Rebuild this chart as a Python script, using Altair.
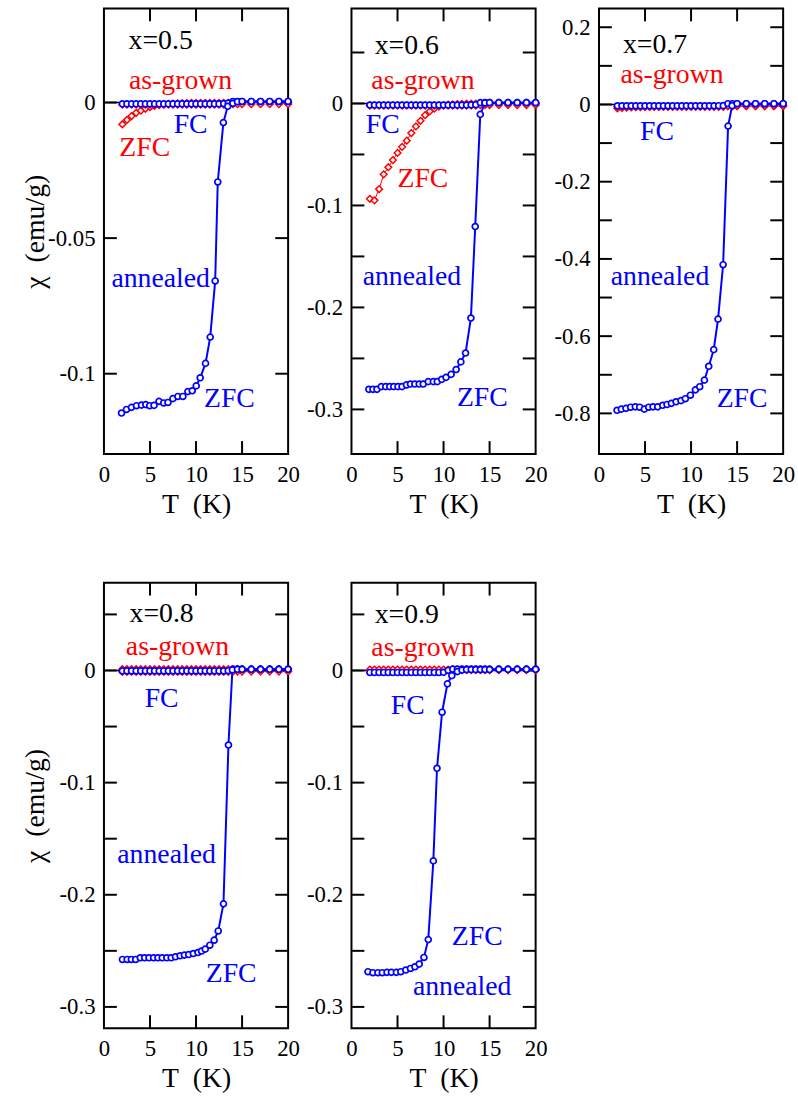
import altair as alt
import pandas as pd

FONT = "Liberation Serif"
W, H = 186, 450
TL = 13
BLUE = "#0000ff"
RED = "#ff0000"

# common temperature grid of the FC runs (and the as-grown runs)
T_fc = [2.0, 2.5, 3.0, 3.5, 4.0, 4.5, 5.0, 5.5, 6.0, 6.5, 7.0, 7.5, 8.0, 8.5, 9.0, 9.5,
        10.0, 10.5, 11.0, 11.5, 12.0, 12.5, 13.0, 13.5, 14.0, 14.5, 15.0, 16.0, 17.0, 18.0, 19.0, 20.0]

# ---------------- x = 0.5 ----------------
zfcT_05 = [1.91, 2.45, 2.99, 3.54, 4.08, 4.54, 4.97, 5.44, 5.98, 6.49, 6.95, 7.49, 8.03, 8.57, 9.11, 9.59,
           10.02, 10.45, 11.03, 11.54, 12.08, 12.36, 12.97, 13.44, 14.0, 14.5, 15.0, 16.0, 17.0, 18.0, 19.0, 20.0]
zfc_05 = [-0.1145, -0.1132, -0.1124, -0.1118, -0.1116, -0.1114, -0.1118, -0.1117, -0.1102, -0.1108, -0.1106,
          -0.1092, -0.1084, -0.1084, -0.1066, -0.1063, -0.1045, -0.1015, -0.0962, -0.0865, -0.0658, -0.0293,
          -0.0074, -0.0014, -0.0003, 0.0003, 0.0004, 0.0004, 0.0004, 0.0004, 0.0004, 0.0004]
fc_05 = [-0.0005, -0.0005, -0.0005, -0.0005, -0.0005, -0.0005, -0.0005, -0.0005, -0.0005, -0.0005, -0.0005,
         -0.0005, -0.0005, -0.0005, -0.0005, -0.0005, -0.0005, -0.0005, -0.0005, -0.0005, -0.0005, -0.0005,
         -0.0004, -0.0002, 0.0004, 0.0004, 0.0004, 0.0004, 0.0004, 0.0004, 0.0004, 0.0004]
agz_05 = [-0.0080, -0.0064, -0.0050, -0.0038, -0.0030, -0.0023, -0.0017, -0.0012, -0.0009, -0.0007, -0.0005,
          -0.0004, -0.0003, -0.0002, -0.0002, -0.0001, -0.0001, -0.0001, -0.0001, -0.0001, -0.0001, -0.0001,
          -0.0001, -0.0001, 0.0, 0.0, 0.0, 0.0, 0.0, 0.0, 0.0, 0.0]
agf_05 = [-0.0008, -0.0008, -0.0008, -0.0008, -0.0008, -0.0008, -0.0008, -0.0008, -0.0008, -0.0008, -0.0008,
          -0.0008, -0.0008, -0.0008, -0.0008, -0.0008, -0.0008, -0.0008, -0.0008, -0.0008, -0.0008, -0.0008,
          -0.0008, -0.0008, -0.0006, -0.0006, -0.0006, -0.0006, -0.0006, -0.0006, -0.0006, -0.0006]

# ---------------- x = 0.6 ----------------
zfcT_06 = [1.89, 2.33, 2.77, 3.24, 3.72, 4.16, 4.59, 5.05, 5.49, 5.98, 6.41, 6.88, 7.36, 7.79, 8.34, 8.89,
           9.32, 9.80, 10.27, 10.82, 11.37, 11.88, 12.39, 12.97, 13.44, 13.99, 14.5, 15.0, 16.0, 17.0, 18.0,
           19.0, 20.0]
zfc_06 = [-0.2803, -0.2803, -0.2803, -0.2777, -0.2777, -0.2777, -0.2777, -0.2777, -0.2777, -0.2760, -0.2751,
          -0.2751, -0.2751, -0.2751, -0.2728, -0.2728, -0.2728, -0.2706, -0.2686, -0.2657, -0.2609, -0.2534,
          -0.2447, -0.2104, -0.1207, -0.0107, 0.0005, 0.0008, 0.0008, 0.0008, 0.0008, 0.0008, 0.0008]
fc_06 = [-0.0015, -0.0015, -0.0015, -0.0015, -0.0015, -0.0015, -0.0015, -0.0015, -0.0015, -0.0015, -0.0015,
         -0.0015, -0.0015, -0.0015, -0.0015, -0.0015, -0.0015, -0.0015, -0.0015, -0.0015, -0.0015, -0.0015,
         -0.0014, -0.0012, 0.0008, 0.0008, 0.0008, 0.0008, 0.0008, 0.0008, 0.0008, 0.0008]
agz_06 = [-0.0935, -0.0950, -0.0840, -0.0695, -0.0625, -0.0555, -0.0485, -0.0425, -0.0365, -0.0290, -0.0225,
          -0.0170, -0.0115, -0.0077, -0.0050, -0.0030, -0.0019, -0.0012, -0.0008, -0.0006, -0.0004, -0.0003,
          -0.0002, -0.0001, 0.0, 0.0, 0.0, 0.0, 0.0, 0.0, 0.0, 0.0]
agf_06 = [-0.0020, -0.0020, -0.0020, -0.0020, -0.0020, -0.0020, -0.0020, -0.0020, -0.0020, -0.0020, -0.0020,
          -0.0020, -0.0020, -0.0020, -0.0020, -0.0020, -0.0020, -0.0020, -0.0020, -0.0020, -0.0020, -0.0020,
          -0.0020, -0.0020, -0.0015, -0.0015, -0.0015, -0.0015, -0.0015, -0.0015, -0.0015, -0.0015]

# ---------------- x = 0.7 ----------------
zfcT_07 = [1.96, 2.43, 2.93, 3.44, 3.95, 4.42, 4.93, 5.40, 5.87, 6.38, 6.92, 7.39, 7.86, 8.37, 8.91, 9.38,
           9.93, 10.47, 10.94, 11.45, 11.92, 12.46, 12.93, 13.48, 14.02, 14.46, 15.0, 16.0, 17.0, 18.0, 19.0, 20.0]
zfc_07 = [-0.792, -0.789, -0.787, -0.784, -0.783, -0.784, -0.789, -0.784, -0.783, -0.783, -0.779, -0.777,
          -0.774, -0.770, -0.767, -0.762, -0.753, -0.739, -0.731, -0.714, -0.678, -0.635, -0.556, -0.415,
          -0.056, -0.003, 0.002, 0.002, 0.002, 0.002, 0.002, 0.002]
fc_07 = [-0.0035, -0.0035, -0.0035, -0.0035, -0.0035, -0.0035, -0.0035, -0.0035, -0.0035, -0.0035, -0.0035,
         -0.0035, -0.0035, -0.0035, -0.0035, -0.0035, -0.0035, -0.0035, -0.0035, -0.0035, -0.0035, -0.0035,
         -0.0033, -0.0030, 0.0020, 0.0020, 0.0020, 0.0020, 0.0020, 0.0020, 0.0020, 0.0020]
agz_07 = [-0.0100, -0.0090, -0.0082, -0.0075, -0.0070, -0.0066, -0.0062, -0.0060, -0.0058, -0.0056, -0.0055,
          -0.0054, -0.0053, -0.0052, -0.0051, -0.0050, -0.0050, -0.0050, -0.0050, -0.0050, -0.0050, -0.0050,
          -0.0050, -0.0050, -0.0040, -0.0040, -0.0040, -0.0040, -0.0040, -0.0040, -0.0040, -0.0040]
agf_07 = [-0.0060, -0.0060, -0.0060, -0.0060, -0.0060, -0.0060, -0.0060, -0.0060, -0.0060, -0.0060, -0.0060,
          -0.0060, -0.0060, -0.0060, -0.0060, -0.0060, -0.0060, -0.0060, -0.0060, -0.0060, -0.0060, -0.0060,
          -0.0060, -0.0060, -0.0040, -0.0040, -0.0040, -0.0040, -0.0040, -0.0040, -0.0040, -0.0040]

# ---------------- x = 0.8 ----------------
zfcT_08 = [2.01, 2.52, 2.98, 3.45, 3.95, 4.42, 4.89, 5.39, 5.86, 6.33, 6.83, 7.30, 7.77, 8.27, 8.74, 9.20,
           9.71, 10.21, 10.60, 11.00, 11.50, 11.97, 12.41, 12.98, 13.52, 13.95, 14.5, 15.0, 16.0, 17.0, 18.0,
           19.0, 20.0]
zfc_08 = [-0.2577, -0.2577, -0.2577, -0.2577, -0.2562, -0.2562, -0.2562, -0.2562, -0.2562, -0.2562, -0.2562,
          -0.2562, -0.2553, -0.2544, -0.2538, -0.2533, -0.2524, -0.2515, -0.2502, -0.2485, -0.2450, -0.2405,
          -0.2323, -0.2081, -0.0665, 0.0005, 0.0010, 0.0010, 0.0010, 0.0010, 0.0010, 0.0010, 0.0010]
fc_08 = [-0.0004, -0.0004, -0.0004, -0.0004, -0.0004, -0.0004, -0.0004, -0.0004, -0.0004, -0.0004, -0.0004,
         -0.0004, -0.0004, -0.0004, -0.0004, -0.0004, -0.0004, -0.0004, -0.0004, -0.0004, -0.0004, -0.0004,
         -0.0004, -0.0002, 0.0012, 0.0012, 0.0012, 0.0012, 0.0012, 0.0012, 0.0012, 0.0012]
agz_08 = [-0.0012, -0.0012, -0.0012, -0.0012, -0.0012, -0.0012, -0.0012, -0.0012, -0.0012, -0.0012, -0.0012,
          -0.0012, -0.0012, -0.0012, -0.0012, -0.0012, -0.0012, -0.0012, -0.0012, -0.0012, -0.0012, -0.0012,
          -0.0012, -0.0012, -0.0010, -0.0010, -0.0010, -0.0010, -0.0010, -0.0010, -0.0010, -0.0010]
agf_08 = [0.0012, 0.0012, 0.0012, 0.0012, 0.0012, 0.0012, 0.0012, 0.0012, 0.0012, 0.0012, 0.0012,
          0.0012, 0.0012, 0.0012, 0.0012, 0.0012, 0.0012, 0.0012, 0.0012, 0.0012, 0.0012, 0.0012,
          0.0012, 0.0012, 0.0012, 0.0012, 0.0012, 0.0012, 0.0012, 0.0012, 0.0012, 0.0012]

# ---------------- x = 0.9 ----------------
zfcT_09 = [1.79, 2.33, 2.88, 3.35, 3.86, 4.34, 4.88, 5.36, 5.90, 6.41, 6.89, 7.36, 7.87, 8.34, 8.89, 9.29,
           9.84, 10.42, 10.90, 11.50, 12.0, 12.5, 13.0, 13.5, 14.0, 14.5, 15.0, 16.0, 17.0, 18.0, 19.0, 20.0]
zfc_09 = [-0.2686, -0.2695, -0.2695, -0.2695, -0.2692, -0.2692, -0.2692, -0.2686, -0.2671, -0.2657, -0.2642,
          -0.2618, -0.2559, -0.2400, -0.1698, -0.0872, -0.0372, -0.0119, -0.0046, -0.0010, 0.0004, 0.0008,
          0.0008, 0.0008, 0.0008, 0.0008, 0.0008, 0.0010, 0.0010, 0.0010, 0.0010, 0.0010]
fc_09 = [-0.0018, -0.0018, -0.0018, -0.0018, -0.0018, -0.0018, -0.0018, -0.0018, -0.0018, -0.0018, -0.0018,
         -0.0018, -0.0018, -0.0018, -0.0018, -0.0018, -0.0016, 0.0002, 0.0012, 0.0012, 0.0012, 0.0012,
         0.0012, 0.0012, 0.0012, 0.0012, 0.0012, 0.0012, 0.0012, 0.0012, 0.0012, 0.0012]
agz_09 = [0.0004, 0.0004, 0.0004, 0.0004, 0.0004, 0.0004, 0.0004, 0.0004, 0.0004, 0.0004, 0.0004,
          0.0004, 0.0004, 0.0004, 0.0004, 0.0004, 0.0004, 0.0004, 0.0004, 0.0004, 0.0004, 0.0004,
          0.0004, 0.0004, 0.0004, 0.0004, 0.0004, 0.0004, 0.0004, 0.0004, 0.0004, 0.0004]
agf_09 = [0.0008, 0.0008, 0.0008, 0.0008, 0.0008, 0.0008, 0.0008, 0.0008, 0.0008, 0.0008, 0.0008,
          0.0008, 0.0008, 0.0008, 0.0008, 0.0008, 0.0008, 0.0008, 0.0008, 0.0008, 0.0008, 0.0008,
          0.0008, 0.0008, 0.0008, 0.0008, 0.0008, 0.0008, 0.0008, 0.0008, 0.0008, 0.0008]

# axis domains, tick positions and tick labels
ydom_05 = [-0.1296, 0.0347]
ytick_05 = [0.0, -0.05, -0.1]
ylab_05 = [0.0, -0.05, -0.1]
ydom_06 = [-0.3437, 0.0932]
ytick_06 = [0.05, 0.0, -0.05, -0.1, -0.15, -0.2, -0.25, -0.3]
ylab_06 = [0.0, -0.1, -0.2, -0.3]
ydom_07 = [-0.9051, 0.2487]
ytick_07 = [0.2, 0.1, 0.0, -0.1, -0.2, -0.3, -0.4, -0.5, -0.6, -0.7, -0.8]
ylab_07 = [0.2, 0.0, -0.2, -0.4, -0.6, -0.8]
ydom_89 = [-0.3190, 0.0783]
ytick_89 = [0.05, 0.0, -0.05, -0.1, -0.15, -0.2, -0.25, -0.3]
ylab_89 = [0.0, -0.1, -0.2, -0.3]
xtick = [5, 10, 15]
xlab = [0, 5, 10, 15, 20]

# annotations: text, T, chi, colour
txt_05 = [("x=0.5", 6.16, 0.0225, "black"), ("as-grown", 8.32, 0.0080, RED), ("FC", 9.41, -0.0084, BLUE),
          ("ZFC", 4.43, -0.0168, RED), ("annealed", 6.16, -0.0650, BLUE), ("ZFC", 13.62, -0.1095, BLUE)]
txt_06 = [("x=0.6", 6.01, 0.0563, "black"), ("as-grown", 7.76, 0.0223, RED), ("FC", 3.39, -0.0214, BLUE),
          ("ZFC", 7.76, -0.0738, RED), ("annealed", 6.56, -0.1699, BLUE), ("ZFC", 14.21, -0.2893, BLUE)]
txt_07 = [("x=0.7", 6.09, 0.1530, "black"), ("as-grown", 7.93, 0.0769, RED), ("FC", 6.30, -0.0718, BLUE),
          ("annealed", 6.63, -0.446, BLUE), ("ZFC", 15.54, -0.764, BLUE)]
txt_08 = [("x=0.8", 6.26, 0.0500, "black"), ("as-grown", 7.98, 0.0208, RED), ("FC", 6.26, -0.0252, BLUE),
          ("annealed", 6.80, -0.1642, BLUE), ("ZFC", 13.81, -0.2704, BLUE)]
txt_09 = [("x=0.9", 6.01, 0.0495, "black"), ("as-grown", 7.76, 0.0200, RED), ("FC", 6.12, -0.0314, BLUE),
          ("ZFC", 13.66, -0.2376, BLUE), ("annealed", 12.02, -0.2827, BLUE)]

YTITLE = "\u03c7\u00a0\u00a0(emu/g)"
XTITLE = "T\u00a0\u00a0(K)"


def panel(ydom, yticks, ylabs, zT, zc, fcA, agz, agf, texts, with_title):
    xs = alt.Scale(domain=[0, 20], nice=False, zero=False)
    ys = alt.Scale(domain=ydom, nice=False, zero=False)
    xaxis = alt.Axis(values=xlab, labelExpr="toString(datum.value)", title=XTITLE, labelFlush=False)
    if with_title:
        yaxis = alt.Axis(values=ylabs, labelExpr="toString(datum.value)", title=YTITLE, labelFlush=False)
    else:
        yaxis = alt.Axis(values=ylabs, labelExpr="toString(datum.value)", title=None, labelFlush=False)

    def X(f):
        return alt.X(f, type="quantitative", scale=xs, axis=xaxis)

    def Y(f):
        return alt.Y(f, type="quantitative", scale=ys, axis=yaxis)

    dfc = pd.DataFrame({"T": T_fc, "fc": fcA, "agz": agz, "agf": agf})
    dz = pd.DataFrame({"T": zT, "chi": zc})
    dyt = pd.DataFrame({"v": yticks})
    dxt = pd.DataFrame({"v": xtick})
    dzero = pd.DataFrame({"v": [0.0]})
    dtxt = pd.DataFrame({"label": [t[0] for t in texts], "T": [t[1] for t in texts],
                         "chi": [t[2] for t in texts], "col": [t[3] for t in texts]})

    tick = dict(color="black", strokeWidth=2)
    dia = dict(shape="diamond", size=46, filled=True, fill="white", stroke=RED, strokeWidth=1.5, opacity=1)
    circ = dict(shape="circle", size=36, filled=True, fill="white", stroke=BLUE, strokeWidth=1.7, opacity=1)
    layers = [
        alt.Chart(dzero).mark_rule(color="black", strokeWidth=1.5).encode(
            y=Y("v"), x=alt.value(0), x2=alt.value(W)),
        alt.Chart(dyt).mark_rule(**tick).encode(y=Y("v"), x=alt.value(0), x2=alt.value(TL)),
        alt.Chart(dyt).mark_rule(**tick).encode(y=Y("v"), x=alt.value(W - TL), x2=alt.value(W)),
        alt.Chart(dxt).mark_rule(**tick).encode(x=X("v"), y=alt.value(0), y2=alt.value(TL)),
        alt.Chart(dxt).mark_rule(**tick).encode(x=X("v"), y=alt.value(H - TL), y2=alt.value(H)),
        alt.Chart(dfc).mark_line(color=RED, strokeWidth=1).encode(x=X("T"), y=Y("agz")),
        alt.Chart(dfc).mark_point(**dia).encode(x=X("T"), y=Y("agz")),
        alt.Chart(dfc).mark_point(**dia).encode(x=X("T"), y=Y("agf")),
        alt.Chart(dfc).mark_line(color=BLUE, strokeWidth=2).encode(x=X("T"), y=Y("fc")),
        alt.Chart(dz).mark_line(color=BLUE, strokeWidth=2).encode(x=X("T"), y=Y("chi")),
        alt.Chart(dfc).mark_point(**circ).encode(x=X("T"), y=Y("fc")),
        alt.Chart(dz).mark_point(**circ).encode(x=X("T"), y=Y("chi")),
        alt.Chart(dtxt).mark_text(font=FONT, fontSize=28, align="center", baseline="middle").encode(
            x=X("T"), y=Y("chi"), text="label:N", color=alt.Color("col:N", scale=None)),
    ]
    return alt.layer(*layers).properties(width=W, height=H)


p1 = panel(ydom_05, ytick_05, ylab_05, zfcT_05, zfc_05, fc_05, agz_05, agf_05, txt_05, True)
p2 = panel(ydom_06, ytick_06, ylab_06, zfcT_06, zfc_06, fc_06, agz_06, agf_06, txt_06, False)
p3 = panel(ydom_07, ytick_07, ylab_07, zfcT_07, zfc_07, fc_07, agz_07, agf_07, txt_07, False)
p4 = panel(ydom_89, ytick_89, ylab_89, zfcT_08, zfc_08, fc_08, agz_08, agf_08, txt_08, True)
p5 = panel(ydom_89, ytick_89, ylab_89, zfcT_09, zfc_09, fc_09, agz_09, agf_09, txt_09, False)

row1 = alt.hconcat(p1, p2, p3, spacing=2)
row2 = alt.hconcat(p4, p5, spacing=2)

chart = alt.vconcat(row1, row2, spacing=62).properties(
    padding={"left": 21, "top": 1, "right": 2, "bottom": 2}
).configure_view(
    stroke="black", strokeWidth=2
).configure_axis(
    labelFont=FONT, titleFont=FONT, labelFontSize=23, titleFontSize=28, titleFontWeight="normal",
    labelColor="black", titleColor="black", ticks=False, domain=False, grid=False
).configure_axisY(
    labelPadding=9, titlePadding=7, minExtent=48, maxExtent=48
).configure_axisX(
    labelPadding=10, titlePadding=4
)

chart.save("out.html", embed_options={"renderer": "svg", "actions": False})
